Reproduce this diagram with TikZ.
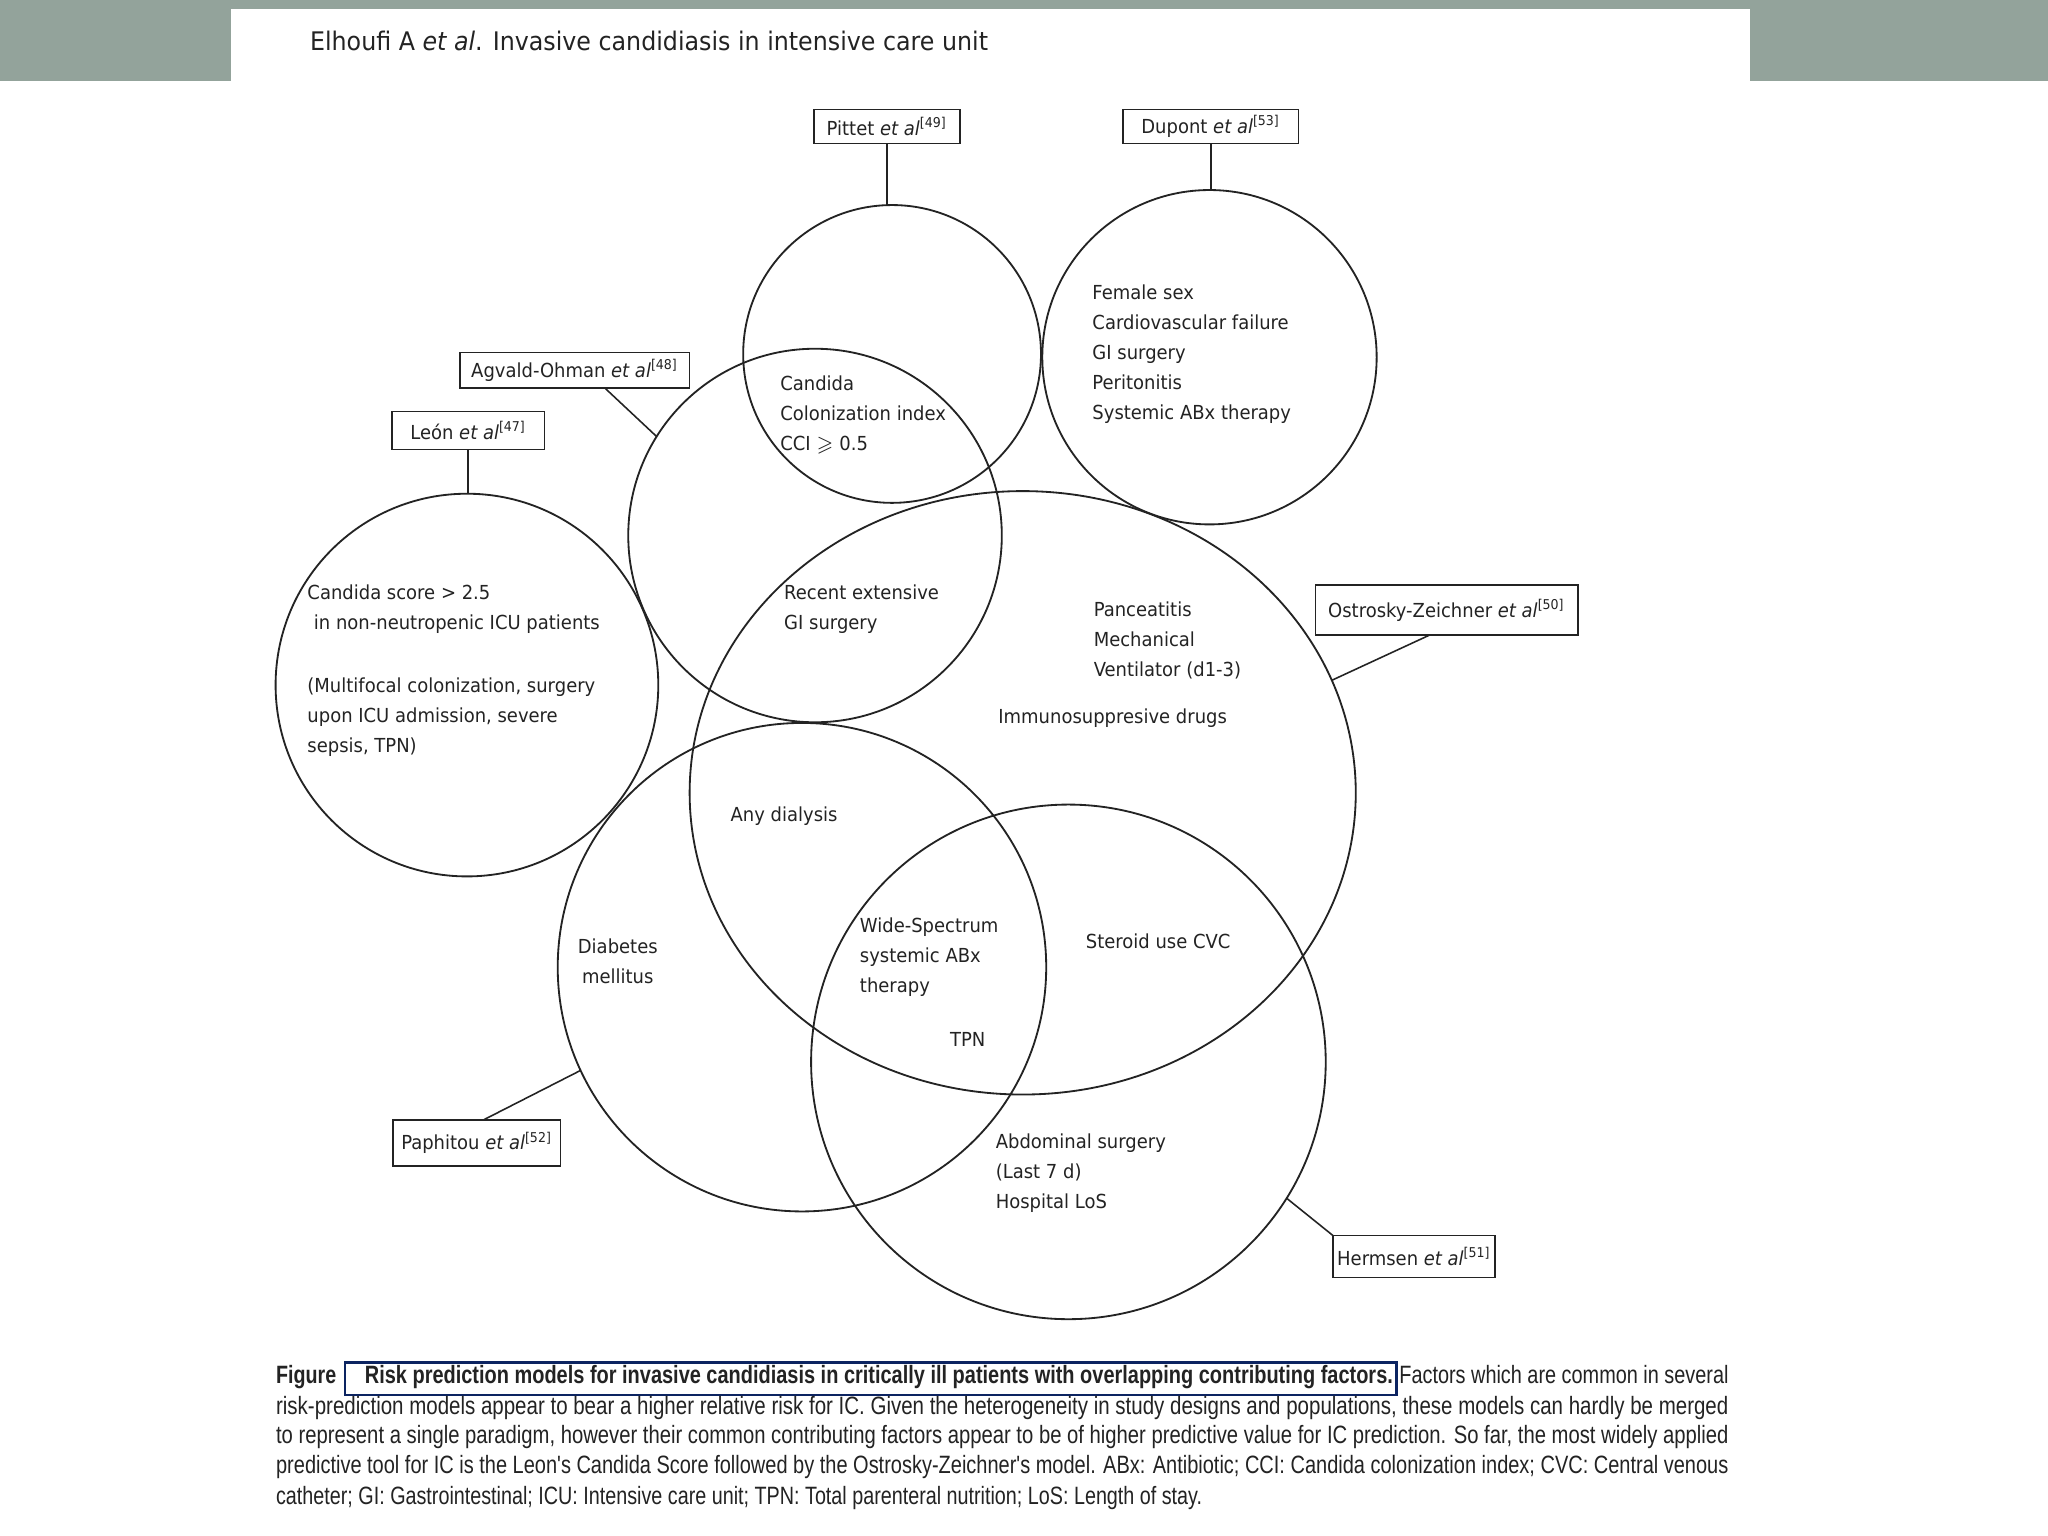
\documentclass[tikz,border=0pt]{standalone}
\usepackage{fontspec}
\usepackage{amssymb}
\usepackage{graphicx}
\usetikzlibrary{shapes.geometric}
\setmainfont{DejaVu Sans}
\newfontfamily\diagfont{DejaVu Sans}[FakeStretch=0.93]
\newfontfamily\capfont{Liberation Sans}
\definecolor{band}{RGB}{147,163,155}
\definecolor{navy}{RGB}{12,36,97}
\definecolor{ink}{RGB}{35,35,35}
\begin{document}
\begin{tikzpicture}[x=0.5pt,y=-0.5pt,
  ring/.style={circle,draw=ink,line width=0.7pt,inner sep=0pt,outer sep=0pt},
  refbox/.style={draw=ink,line width=0.6pt,inner sep=0pt,outer sep=0pt,font=\diagfont\fontsize{7.4}{9}\selectfont,text=ink},
  lbl/.style={anchor=base west,align=left,inner sep=0pt,font=\diagfont\fontsize{7.4}{11.5}\selectfont,text=ink},
  link/.style={draw=ink,line width=0.6pt},
  captxt/.style={anchor=base west,inner sep=0pt,font=\capfont\fontsize{9.6}{11}\selectfont,text=ink}]

\useasboundingbox (0,0) rectangle (1568,1176);
\fill[white] (0,0) rectangle (1568,1176);
\fill[band] (0,0) rectangle (1568,62);
\fill[white] (177,7) rectangle (1340,1176);

% header
\node[anchor=base west,inner sep=0pt,text=ink,font=\fontsize{9.8}{11}\selectfont] (head) at (237,39)
  {\resizebox{259.5pt}{\height}{Elhoufi A \textit{et al}. Invasive candidiasis in intensive care unit}};

% reference boxes
\node[refbox,minimum width=56pt,minimum height=13pt] (pit) at (679,97) {Pittet \textit{et al}\textsuperscript{[49]}};
\node[refbox,minimum width=67pt,minimum height=13pt] (dup) at (927,97) {Dupont \textit{et al}\textsuperscript{[53]}};
\node[refbox,minimum width=88pt,minimum height=13.5pt] (agv) at (440,283.5) {Agvald-Ohman \textit{et al}\textsuperscript{[48]}};
\node[refbox,minimum width=58.5pt,minimum height=14.5pt] (leon) at (358.5,329.5) {León \textit{et al}\textsuperscript{[47]}};
\node[refbox,minimum width=100.5pt,minimum height=19pt] (ost) at (1107.5,467) {Ostrosky-Zeichner \textit{et al}\textsuperscript{[50]}};
\node[refbox,minimum width=64pt,minimum height=17.5pt] (pap) at (365,875) {Paphitou \textit{et al}\textsuperscript{[52]}};
\node[refbox,minimum width=62pt,minimum height=16pt] (her) at (1082.6,962) {Hermsen \textit{et al}\textsuperscript{[51]}};

% circles
\node[ring,minimum size=114pt] (c1) at (683,271) {};
\node[ring,minimum size=128pt] (c2) at (926,273.5) {};
\node[ring,minimum size=143pt] (c3) at (624,410) {};
\node[ring,minimum size=146.5pt] (c4) at (357.5,524.5) {};
\node[ring,ellipse,minimum width=255pt,minimum height=231pt] (c5) at (783,607) {};
\node[ring,minimum size=187pt] (c6) at (614,740.5) {};
\node[ring,minimum size=197pt] (c7) at (818,813) {};

% connectors
\draw[link] (pit.south) -- (pit.south |- c1.north);
\draw[link] (dup.south) -- (dup.south |- c2.north);
\draw[link] (leon.south) -- (leon.south |- c4.north);
\draw[link] ([xshift=11.5pt]agv.south) -- (c3.148.6);
\draw[link] ([xshift=-6.25pt]ost.south) -- (c5.20);
\draw[link] ([xshift=2.5pt]pap.north) -- (c6.205);
\draw[link] (her.north west) -- (c7.-32);

% labels (y = baseline of the last line)
\node[lbl] (tcci) at (597,345) {Candida\\Colonization index\\CCI $\geqslant$ 0.5};
\node[lbl] (tdup) at (836,321) {Female sex\\Cardiovascular failure\\GI surgery\\Peritonitis\\Systemic ABx therapy};
\node[lbl] (tleona) at (235,482) {Candida score > 2.5\\\hspace{2.5pt}in non-neutropenic ICU patients};
\node[lbl] (tleonb) at (235,576) {(Multifocal colonization, surgery\\upon ICU admission, severe\\sepsis, TPN)};
\node[lbl] (trec) at (600,482) {Recent extensive\\GI surgery};
\node[lbl] (tpanc) at (837,518) {Panceatitis\\Mechanical\\Ventilator (d1-3)};
\node[lbl] (timm) at (764,554) {Immunosuppresive drugs};
\node[lbl] (tdia) at (559,629) {Any dialysis};
\node[lbl,anchor=base,align=center] (tdiab) at (473,753) {Diabetes\\mellitus};
\node[lbl] (twide) at (658,760) {Wide-Spectrum\\systemic ABx\\therapy};
\node[lbl] (ttpn) at (727,801) {TPN};
\node[lbl] (tster) at (831,726) {Steroid use CVC};
\node[lbl] (tabd) at (762,925) {Abdominal surgery\\(Last 7 d)\\Hospital LoS};

% caption
\draw[navy,line width=1pt] (264,1043) rectangle (1069,1068);
\node[captxt] (cfig) at (211,1059) {\resizebox{23pt}{\height}{\bfseries Figure}};
\node[captxt] (ctitle) at (279,1059) {\resizebox{393.5pt}{\height}{\bfseries Risk prediction models for invasive candidiasis in critically ill patients with overlapping contributing factors.}};
\node[captxt] (c1a) at (1071,1059) {\resizebox{126pt}{\height}{Factors which are common in several}};
\node[captxt] (c2a) at (211,1083) {\resizebox{556pt}{\height}{risk-prediction models appear to bear a higher relative risk for IC. Given the heterogeneity in study designs and populations, these models can hardly be merged}};
\node[captxt] (c3a) at (211,1105) {\resizebox{556pt}{\height}{to represent a single paradigm, however their common contributing factors appear to be of higher predictive value for IC prediction. So far, the most widely applied}};
\node[captxt] (c4a) at (211,1128) {\resizebox{556pt}{\height}{predictive tool for IC is the Leon's Candida Score followed by the Ostrosky-Zeichner's model. ABx: Antibiotic; CCI: Candida colonization index; CVC: Central venous}};
\node[captxt] (c5a) at (211,1152) {\resizebox{354.5pt}{\height}{catheter; GI: Gastrointestinal; ICU: Intensive care unit; TPN: Total parenteral nutrition; LoS: Length of stay.}};
\end{tikzpicture}
\end{document}
